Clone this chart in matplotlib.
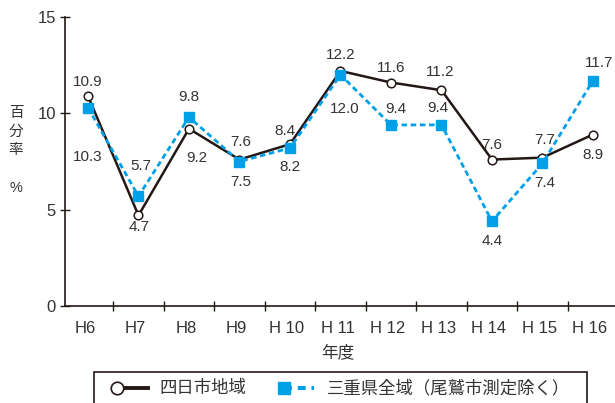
import matplotlib
matplotlib.use('Agg')
from matplotlib import pyplot as plt
from matplotlib.lines import Line2D
from matplotlib.patches import Rectangle
from matplotlib.transforms import ScaledTranslation

plt.rcParams['font.family'] = ['Liberation Sans', 'Noto Sans CJK JP', 'DejaVu Sans']

years = ['H6', 'H7', 'H8', 'H9', 'H 10', 'H 11', 'H 12', 'H 13', 'H 14', 'H 15', 'H 16']
yokkaichi = [10.9, 4.7, 9.2, 7.6, 8.4, 12.2, 11.6, 11.2, 7.6, 7.7, 8.9]
mie = [10.3, 5.7, 9.8, 7.5, 8.2, 12.0, 9.4, 9.4, 4.4, 7.4, 11.7]
name_yokkaichi = '四日市地域'
name_mie = '三重県全域（尾鷲市測定除く）'

# label offsets in pixels (dx, dy), up is positive
off_black = [(0, 14), (1, -12), (8, -29), (1, 18), (-5, 13), (0, 16),
             (0, 15), (-1, 18), (0, 15), (2, 18), (0, -20)]
off_blue = [(0, -49), (2, 30), (0, 20), (1, -20), (0, -19), (4, -34),
            (5, 16), (-4, 17), (0, -20), (2, -20), (6, 18)]

dark = '#231815'
txt = '#333333'
blue = '#00a0e9'
W, H = 615, 403


def fx(px):
    return px / W


def fy(py):
    return 1 - py / H


black_style = dict(color=dark, lw=1.8, marker='o', ms=6.2, mfc='white', mec=dark, mew=1.1)
blue_style = dict(color=blue, lw=2.0, ls=(0, (2.0, 1.3)), marker='s', ms=7, mfc=blue, mec=blue)

fig = plt.figure(figsize=(W / 100, H / 100), dpi=100)
ax = fig.add_axes([fx(65), fy(306), 1 - fx(65), (306 - 17) / H])

x = list(range(len(years)))
ax.plot(x, yokkaichi, zorder=3, **black_style)
ax.plot(x, mie, zorder=4, **blue_style)

for i in x:
    ax.annotate(f'{yokkaichi[i]:.1f}', (i, yokkaichi[i]), xytext=off_black[i],
                textcoords='offset pixels', ha='center', va='center',
                fontsize=11, color=txt, zorder=5)
    ax.annotate(f'{mie[i]:.1f}', (i, mie[i]), xytext=off_blue[i],
                textcoords='offset pixels', ha='center', va='center',
                fontsize=11, color=txt, zorder=5)

ax.set_xlim(-0.455, 10.436)
ax.set_ylim(0, 15)
ax.set_yticks([0, 5, 10, 15])
ax.set_xticks(x)
ax.set_xticklabels(years)
ax.set_xticks([i + 0.5 for i in range(10)], minor=True)
ax.tick_params(axis='x', which='major', length=0, pad=11, labelsize=12, labelcolor=txt)
ax.tick_params(axis='x', which='minor', direction='inout', length=7, width=1, color=dark)
ax.tick_params(axis='y', direction='inout', length=7, width=1, color=dark,
               labelsize=12, labelcolor=txt, pad=3)
shift = ScaledTranslation(-3 / 100, 0, fig.dpi_scale_trans)
for lab in ax.get_xticklabels():
    lab.set_transform(lab.get_transform() + shift)
for s in ['top', 'right']:
    ax.spines[s].set_visible(False)
for s in ['left', 'bottom']:
    ax.spines[s].set_color(dark)
    ax.spines[s].set_linewidth(1.2)

fig.text(fx(338), fy(352), '年度', ha='center', va='center', fontsize=12, color=txt)
for ch, py in zip('百分率', [113, 132, 150]):
    fig.text(fx(16), fy(py), ch, ha='center', va='center', fontsize=10.5, color=txt)
fig.text(fx(16), fy(188), '%', ha='center', va='center', fontsize=10.5, color=txt)

# legend box, drawn by hand so the marker sits at the left end of each key
fig.add_artist(Rectangle((fx(94), fy(420)), fx(587) - fx(94), fy(372) - fy(420),
                         transform=fig.transFigure, fill=False, ec=dark, lw=1.2))
ly = fy(388)
fig.add_artist(Line2D([fx(117), fx(148)], [ly, ly], transform=fig.transFigure,
                      color=dark, lw=2.8))
fig.add_artist(Line2D([fx(117)], [ly], transform=fig.transFigure, ls='none',
                      marker='o', ms=9, mfc='white', mec=dark, mew=1.2))
fig.text(fx(159), ly, name_yokkaichi, ha='left', va='center', fontsize=12.5, color=txt)
fig.add_artist(Line2D([fx(284), fx(314)], [ly, ly], transform=fig.transFigure,
                      color=blue, lw=3, ls=(0, (1.9, 1.4))))
fig.add_artist(Line2D([fx(284)], [ly], transform=fig.transFigure, ls='none',
                      marker='s', ms=9, mfc=blue, mec=blue))
fig.text(fx(327), ly, name_mie, ha='left', va='center', fontsize=12.5, color=txt)

fig.savefig('out.png', dpi=100)
